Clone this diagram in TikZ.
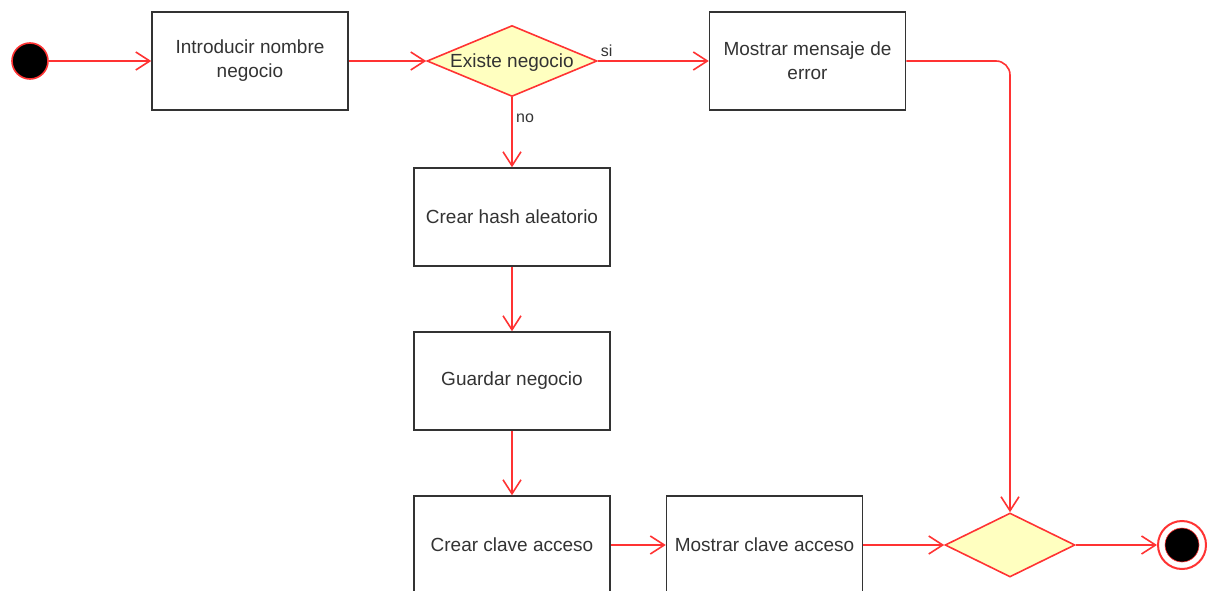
\documentclass[tikz,border=0pt]{standalone}
\usepackage{fontspec}
\setmainfont{Liberation Sans}
\usepackage{xcolor}
\usetikzlibrary{arrows.meta,shapes.geometric}
\definecolor{flujo}{RGB}{255,51,51}
\definecolor{rombo}{RGB}{255,255,192}
\definecolor{texto}{RGB}{51,51,51}

\begin{document}
\begin{tikzpicture}[x=1pt,y=-1pt,
  accion/.style={draw=texto,line width=1.5pt,minimum width=196pt,minimum height=98pt,align=center,text=texto,font=\fontsize{19}{24}\selectfont},
  decision/.style={draw=flujo,line width=1.6pt,fill=rombo,diamond,inner sep=0pt},
  flecha/.style={flujo,line width=1.6pt,-{Straight Barb[length=14pt,width=18pt]}},
  etiqueta/.style={text=texto,font=\fontsize{16}{18}\selectfont}]
\useasboundingbox (0,0) rectangle (1207,591);
\clip (0,0) rectangle (1207,591);
% start and end
\node[circle,fill=black,draw=flujo,line width=1.6pt,minimum size=36pt,inner sep=0pt] (inicio) at (30,61) {};
\node[circle,draw=flujo,line width=2pt,minimum size=48pt,inner sep=0pt] (fin) at (1182,545) {};
\node[circle,fill=black,draw=flujo,line width=0.6pt,minimum size=34pt,inner sep=0pt] (finint) at (1182,545) {};
% actions
\node[accion] (nombre) at (250,61) {Introducir nombre\\negocio};
\node[accion] (error) at (807.5,61) {Mostrar mensaje de\\error};
\node[accion] (hash) at (512,217) {Crear hash aleatorio};
\node[accion] (guardar) at (512,381) {Guardar negocio};
\node[accion] (clave) at (512,545) {Crear clave acceso};
\node[accion] (mostrar) at (764.5,545) {Mostrar clave acceso};
% decisions
\node[decision,minimum width=170pt,minimum height=71pt,
  label={[text=texto,font=\fontsize{19}{24}\selectfont,yshift=-2pt]center:Existe negocio}] (existe) at (512,61) {};
\node[decision,minimum width=130pt,minimum height=64pt] (union) at (1010,545) {};
% flow
\draw[flecha] (inicio) -- (nombre);
\draw[flecha] (nombre) -- (existe);
\draw[flecha] (existe) -- node[etiqueta,pos=0.08,above] {si} (error);
\draw[flecha] (existe) -- node[etiqueta,pos=0.3,right] {no} (hash);
\draw[flecha] (hash) -- (guardar);
\draw[flecha] (guardar) -- (clave);
\draw[flecha] (clave) -- (mostrar);
\draw[flecha] (mostrar) -- (union);
\draw[flecha,rounded corners=14pt] (error.east) -| (union.north);
\draw[flecha] (union) -- (fin);
\end{tikzpicture}
\end{document}
